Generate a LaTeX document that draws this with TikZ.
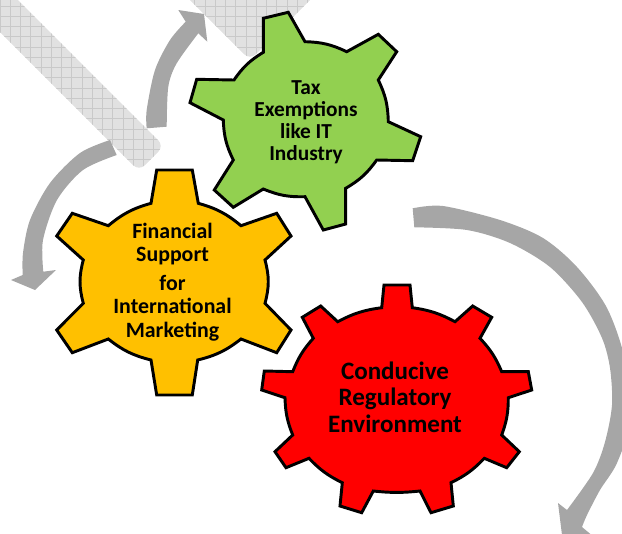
\documentclass[tikz,border=0pt]{standalone}
\usepackage{fontspec}
\setmainfont{Carlito}
\definecolor{arrowgray}{HTML}{A6A6A6}
\definecolor{bandgray}{HTML}{E1E1E1}
\definecolor{hatchgray}{HTML}{C9C9C9}
\definecolor{geargreen}{HTML}{92D050}
\definecolor{gearorange}{HTML}{FFC000}
\tikzset{
  gearline/.style={draw=black, line width=2.2pt, line join=miter, miter limit=4},
  flow/.style={fill=arrowgray},
  geartext/.style={align=center, inner sep=0pt},
  hatchline/.style={draw=hatchgray, line width=0.6pt, line cap=butt},
}
\begin{document}
\begin{tikzpicture}[x=0.75pt, y=-0.75pt, line join=round, line cap=round]
    \useasboundingbox (0,0) rectangle (622,533);
    \clip (0,0) rectangle (622,533);

    % hatched bands
    \begin{scope}
        \clip[rounded corners=6] (-10,-28)--(164,146)--(139,171)--(-35,-3)--cycle;
        \fill[bandgray] (-40,-40) rectangle (200,200);
        \foreach \k in {0,...,17} {
            \draw[hatchline] (\k*10.25,0)--(\k*10.25,180);
            \draw[hatchline] (0,\k*10.25+6)--(180,\k*10.25+6);
        }
    \end{scope}
    \begin{scope}
        \clip[rounded corners=6] (150,-40)--(250,60)--(350,-40)--cycle;
        \fill[bandgray] (150,-40) rectangle (350,70);
        \foreach \k in {0,...,6} \draw[hatchline] (150,\k*10.25+6)--(350,\k*10.25+6);
        \foreach \k in {18,...,32} \draw[hatchline] (\k*10.25,0)--(\k*10.25,70);
    \end{scope}

    % grey arrows
    \fill[flow] plot[smooth] coordinates {(146.7,128.3) (146.7,110) (155,70) (170,40) (185.7,21.7)}
        --(178.3,10)--(204,14)--(207.3,41.7)--
        plot[smooth] coordinates {(198.3,33.3) (176.7,63.3) (168.3,86.7) (166.7,126.7)} --cycle;
    \fill[flow] plot[smooth] coordinates {(110,140) (80,153) (50,183) (30,220) (23,253) (22.7,275)}
        --(11,280)--(35,290)--(56,270)--
        plot[smooth] coordinates {(43.3,271.7) (43,240) (57,200) (83,170) (116.7,155)} --cycle;
    \fill[flow] plot[smooth] coordinates {(412.7,208.3) (443,206) (500,220) (543,238) (577,267) (607,308) (625,360) (630,420) (617,463) (600,490) (587,515) (582,527)}
        --(600,542)--(562,535)--(558,503)--
        plot[smooth] coordinates {(567,510) (593,473) (605,442) (612,405) (610,368) (602,338) (582,302) (550,267) (510,243) (467,230) (414.3,227.3)} --cycle;

    % gears
    \draw[gearline, fill=geargreen] (263.3,18.3)--(288.3,12.3)--(305,41.7) to[bend left=12] (346.7,51.7)
        --(378.3,34.3)--(396.7,51.7)--(378.3,80) to[bend left=12] (388.3,121.7)
        --(420.7,136.7)--(412.7,160.7)--(376.7,160) to[bend left=12] (345.7,188.3)
        --(345.7,224)--(323.3,230)--(305,196.7) to[bend left=12] (263.3,189)
        --(233.3,207.3)--(214.3,190)--(233.3,160) to[bend left=12] (223.3,120)
        --(190,102.7)--(196.7,79.3)--(234,80) to[bend left=12] (263.3,52.3)--cycle;
    \draw[gearline, fill=gearorange] (156.7,170)--(192.3,170)--(198.3,203.3) to[bend left=12] (241,225.7)
        --(276.7,213.3)--(291,236)--(265,260) to[bend left=15] (265,303.3)
        --(291,330)--(276.7,352.7)--(241,339) to[bend left=12] (197.7,360)
        --(192.3,395)--(156.7,395)--(151,360) to[bend left=12] (108.3,339)
        --(72.3,352.7)--(56.7,330)--(83.3,303.3) to[bend left=15] (83.3,260)
        --(56.7,236)--(72.3,213.3)--(108.3,225.7) to[bend left=12] (151,203.3)--cycle;
    \draw[gearline, fill=red] (384,285)--(410,285)--(412.3,307.7) to[bend left=10] (455,321.7)
        --(472.7,306)--(491.7,317.3)--(480,338.3) to[bend left=10] (501.7,371.7)
        --(528.3,371.7)--(531.7,390)--(508.3,397.7) to[bend left=10] (501.7,435)
        --(519.3,451.7)--(506.7,467.7)--(484.3,458.3) to[bend left=10] (451,482.7)
        --(453.3,506)--(431,512.7)--(420,491) to[bend left=6] (373.3,491)
        --(361.7,512.7)--(340,506)--(342.3,482.7) to[bend left=10] (309,458.3)
        --(286,467.7)--(275,451.7)--(292.7,435) to[bend left=10] (285,397.7)
        --(261.7,390)--(264.3,371)--(292.7,371.7) to[bend left=10] (313.3,338.3)
        --(302.3,317.3)--(320.7,306)--(337.7,321.7) to[bend left=10] (381.7,307.7)--cycle;

    % gear texts
    \node[geartext, font=\bfseries\fontsize{16}{16.5}\selectfont] (tax) at (306,122) {Tax\\Exemptions\\like IT\\Industry};
    \node[geartext, font=\bfseries\fontsize{16.4}{17.6}\selectfont] (financial) at (172.5,282) {Financial\\Support\\[4pt]for\\International\\Marketing};
    \node[geartext, font=\bfseries\fontsize{18.8}{19.9}\selectfont] (conducive) at (395,397) {Conducive\\Regulatory\\Environment};
\end{tikzpicture}
\end{document}
